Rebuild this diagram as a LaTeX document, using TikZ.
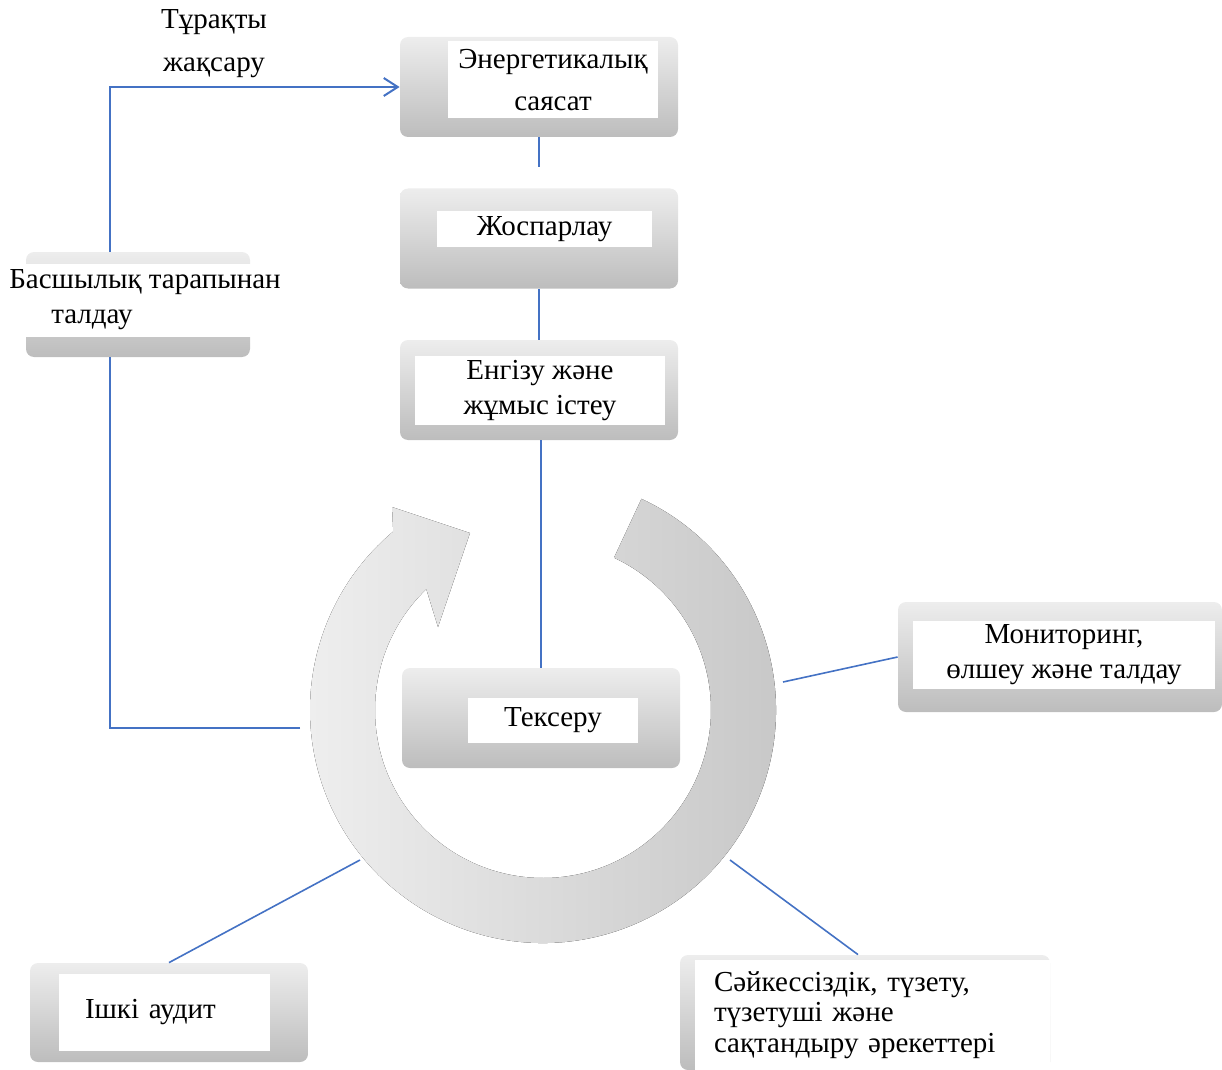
\documentclass[tikz,border=0pt]{standalone}
\usepackage{fontspec}
\setmainfont{Liberation Serif}
\usetikzlibrary{calc,arrows.meta}
\definecolor{linkblue}{RGB}{68,114,196}

\begin{document}
\begin{tikzpicture}[x=0.5pt, y=-0.5pt,
    stepbox/.style={rounded corners=4pt, draw=none, top color=gray!14, bottom color=gray!52, minimum width=139pt, minimum height=50pt},
    txtbox/.style={fill=white, inner sep=0pt, align=center, font=\fontsize{14.5}{17.5}\selectfont},
    link/.style={draw=linkblue, line width=1pt},
    ring/.style={left color=gray!13, right color=gray!45}]
    \useasboundingbox (0,0) rectangle (1222,1070);

    % Ring arrow
    \coordinate (C) at (543,710);
    \fill[ring] ($(C)+(-65:233)$) arc[start angle=-65, end angle=230, radius=233]
        -- (392,507) -- (470,533) -- (438,627)
        -- ($(C)+(226:168)$) arc[start angle=226, end angle=-65, radius=168] -- cycle;

    % Boxes
    \node[stepbox] (policy) at (539,87) {};
    \node[txtbox, minimum width=105pt, minimum height=38.5pt, font=\fontsize{14.5}{21}\selectfont] (policyt) at (553,80) {Энергетикалық\\саясат};

    \node[stepbox] (plan) at (539,238.5) {};
    \node[txtbox, minimum width=107.5pt, minimum height=17.5pt] (plant) at (544.5,229) {Жоспарлау};

    \node[stepbox] (exec) at (539,390) {};
    \node[txtbox, minimum width=125pt, minimum height=34.5pt] (exect) at (540,390.5) {Енгізу және\\жұмыс істеу};

    \node[stepbox] (check) at (541,718) {};
    \node[txtbox, minimum width=85pt, minimum height=22.5pt] (checkt) at (553,720) {Тексеру};

    \node[stepbox, minimum width=162pt, minimum height=55pt] (monitor) at (1060,657) {};
    \node[txtbox, minimum width=151pt, minimum height=34pt] (monitort) at (1064,655) {Мониторинг,\\өлшеу және талдау};

    \node[stepbox, minimum width=112pt, minimum height=52.5pt] (review) at (138,304.5) {};
    \node[txtbox, minimum width=112pt, minimum height=36.5pt, align=left] (reviewt) at (145,300) {Басшылық тарапынан\\\hspace*{21pt}талдау};

    \node[stepbox, minimum height=49.5pt] (audit) at (169,1012.5) {};
    \node[txtbox, minimum width=105.5pt, minimum height=38.5pt, text width=79.5pt, inner xsep=13pt, align=left] (auditt) at (164.5,1012.5) {Ішкі аудит};

    \node[stepbox, minimum width=185pt, minimum height=57.5pt] (correct) at (865,1012.5) {};
    \node[txtbox, minimum width=177.5pt, minimum height=55pt, text width=158.5pt, inner xsep=9.5pt, align=left, font=\fontsize{14.5}{15.25}\selectfont] (correctt) at (872.5,1015) {Сәйкессіздік, түзету,\\түзетуші және\\сақтандыру әрекеттері};

    \node[align=center, inner sep=0pt, font=\fontsize{14.5}{21.5}\selectfont] (improve) at (214,44) {Тұрақты\\жақсару};

    % Connectors
    \coordinate (polgap) at (539,167);
    \coordinate (ringW) at (300,728);
    \coordinate (ringE) at (783,682);
    \coordinate (ringSE) at (730,860);
    \coordinate (ringSW) at (360,860);

    \draw[link] (policy.south) -- (polgap);
    \draw[link] (plan.south) -- (exec.north);
    \draw[link, line width=0.6pt] (exec.south -| check.north) -- (check.north);
    \draw[link] (ringW) -| ([xshift=-14pt]review.south);
    \draw[link, -{Straight Barb[length=7pt, width=9pt]}] ([xshift=-14pt]review.north) |- (policy.west);
    \draw[link, line width=0.8pt] (ringE) -- (monitor.west);
    \draw[link, line width=0.8pt] (ringSE) -- ([xshift=-3.5pt]correct.north);
    \draw[link, line width=0.8pt] (ringSW) -- (audit.north);
\end{tikzpicture}
\end{document}
